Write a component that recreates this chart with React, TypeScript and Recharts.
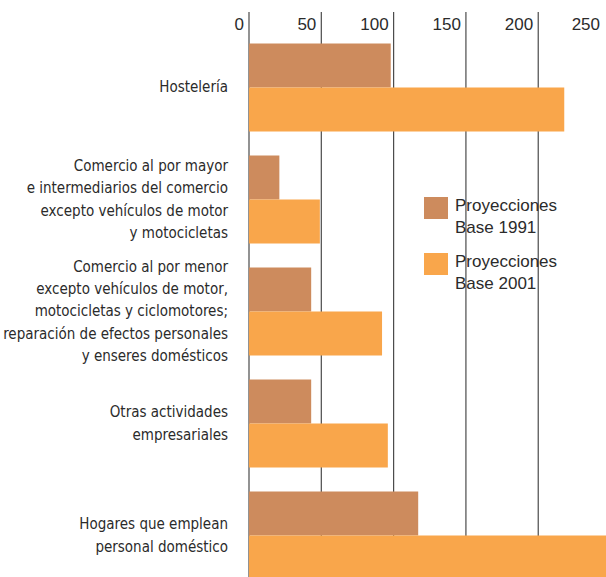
import React from "react";
import { BarChart, Bar, XAxis, YAxis, CartesianGrid } from "recharts";

const categories: string[] = [
  "Hostelería",
  "Comercio al por mayor\ne intermediarios del comercio\nexcepto vehículos de motor\ny motocicletas",
  "Comercio al por menor\nexcepto vehículos de motor,\nmotocicletas y ciclomotores;\nreparación de efectos personales\ny enseres domésticos",
  "Otras actividades\nempresariales",
  "Hogares que emplean\npersonal doméstico",
];
const base1991: number[] = [98, 21, 43, 43, 117];
const base2001: number[] = [218, 49, 92, 96, 258];
const xTicks: number[] = [0, 50, 100, 150, 200, 250];

const seriesNames = ["Proyecciones\nBase 1991", "Proyecciones\nBase 2001"];
const colors = ["#CD8B5D", "#F9A64B"];

const data = categories.map((c, i) => ({ name: c, b1991: base1991[i], b2001: base2001[i] }));

const TEXT = "#2b2b2b";
const SANS = "'Liberation Sans', Arial, Helvetica, sans-serif";
const NARROW = "'Liberation Sans Narrow', 'DejaVu Sans Condensed', 'Arial Narrow', sans-serif";

function CategoryTick(props: any) {
  const { x, y, payload } = props;
  const lines = String(payload.value).split("\n");
  const lh = 22.3;
  const start = y - ((lines.length - 1) * lh) / 2;
  return (
    <text x={x - 13} y={start} textAnchor="end" fill={TEXT} fontFamily={NARROW} fontSize={15}>
      {lines.map((l: string, i: number) => (
        <tspan key={i} x={x - 13} y={start + i * lh} dy="0.36em">
          {l}
        </tspan>
      ))}
    </text>
  );
}

function ValueTick(props: any) {
  const { x, payload } = props;
  return (
    <text x={Math.min(x - 5, 600)} y={24} dy="0.36em" textAnchor="end" fill={TEXT} fontFamily={SANS} fontSize={17}>
      {payload.value}
    </text>
  );
}

function LegendBox() {
  return (
    <div
      style={{
        position: "absolute",
        left: 424,
        top: 197,
        fontFamily: SANS,
        fontSize: 17,
        color: TEXT,
        lineHeight: "22px",
      }}
    >
      {seriesNames.map((n, i) => (
        <div key={i} style={{ display: "flex", alignItems: "flex-start", marginBottom: i === 0 ? 14 : 0 }}>
          <div style={{ width: 24, height: 22, background: colors[i], marginRight: 7, flexShrink: 0 }} />
          <div style={{ marginTop: -2 }}>
            {n.split("\n").map((l, j) => (
              <div key={j}>{l}</div>
            ))}
          </div>
        </div>
      ))}
    </div>
  );
}

export default function App() {
  return (
    <div style={{ position: "fixed", left: 0, top: 0, width: 606, height: 577, overflow: "hidden", background: "#fff" }}>
      <BarChart
        width={640}
        height={600}
        data={data}
        layout="vertical"
        margin={{ top: 11, right: 15, bottom: 9, left: 0 }}
        barCategoryGap={12.5}
        barGap={0}
      >
        <CartesianGrid horizontal={false} vertical stroke="#4a4a4a" strokeWidth={1.2} />
        <XAxis
          type="number"
          orientation="top"
          height={1}
          domain={[0, 260]}
          ticks={xTicks}
          axisLine={false}
          tickLine={false}
          tick={<ValueTick />}
          interval={0}
        />
        <YAxis
          type="category"
          dataKey="name"
          width={249}
          axisLine={false}
          tickLine={false}
          tick={<CategoryTick />}
          interval={0}
          padding={{ top: 19, bottom: 0 }}
        />
        <Bar dataKey="b1991" fill={colors[0]} isAnimationActive={false} />
        <Bar dataKey="b2001" fill={colors[1]} isAnimationActive={false} />
      </BarChart>
      <LegendBox />
    </div>
  );
}
